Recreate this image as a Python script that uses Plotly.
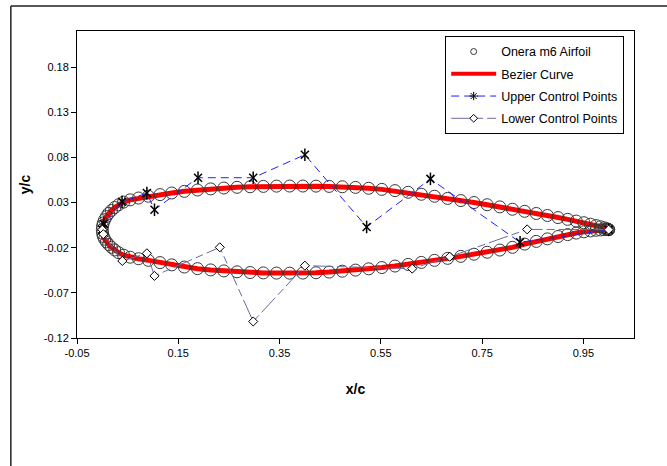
import plotly.graph_objects as go

# ---------------- data ----------------
airfoil_x = [0.0, 0.0005, 0.002, 0.0045, 0.008, 0.0125, 0.018, 0.0245, 0.032, 0.042,
             0.055, 0.0715, 0.091, 0.114, 0.137, 0.162, 0.188, 0.214, 0.240, 0.266,
             0.292, 0.318, 0.344, 0.370, 0.396, 0.422, 0.448, 0.474, 0.500, 0.526,
             0.552, 0.578, 0.604, 0.630, 0.656, 0.682, 0.708, 0.734, 0.760, 0.785,
             0.810, 0.834, 0.857, 0.879, 0.900, 0.919, 0.936, 0.951, 0.964, 0.975,
             0.984, 0.991, 0.996, 0.999, 1.0]

airfoil_upper_y = [0.0, 0.0040, 0.0075, 0.0110, 0.0145, 0.0180, 0.0212, 0.0245, 0.0275, 0.0305,
                   0.0330, 0.0350, 0.0370, 0.0388, 0.0406, 0.0424, 0.0439, 0.0451, 0.0461, 0.0469,
                   0.0475, 0.0479, 0.0482, 0.0483, 0.0483, 0.0482, 0.0479, 0.0475, 0.0468, 0.0458,
                   0.0446, 0.0432, 0.0414, 0.0392, 0.0370, 0.0346, 0.0322, 0.0300, 0.0276, 0.0252,
                   0.0226, 0.0203, 0.0179, 0.0157, 0.0134, 0.0114, 0.0095, 0.0077, 0.0060, 0.0045,
                   0.0032, 0.0020, 0.0010, 0.0003, 0.0]

airfoil_lower_y = [0.0, -0.0040, -0.0075, -0.0105, -0.0135, -0.0165, -0.0195, -0.0225, -0.0255, -0.0283,
                   -0.0305, -0.0322, -0.0340, -0.0365, -0.0390, -0.0414, -0.0432, -0.0446, -0.0457, -0.0467,
                   -0.0475, -0.0479, -0.0481, -0.0482, -0.0481, -0.0477, -0.0470, -0.0460, -0.0448, -0.0434,
                   -0.0420, -0.0403, -0.0385, -0.0363, -0.0340, -0.0318, -0.0296, -0.0272, -0.0250, -0.0226,
                   -0.0196, -0.0160, -0.0130, -0.0102, -0.0076, -0.0055, -0.0038, -0.0024, -0.0014, -0.0007,
                   -0.0003, 0.0, 0.0001, 0.0001, 0.0]

upper_cp_x = [0.0, 0.003, 0.039, 0.088, 0.103, 0.189, 0.298, 0.400, 0.522, 0.648, 0.825, 1.0]
upper_cp_y = [0.0, 0.0062, 0.0308, 0.0405, 0.0220, 0.0575, 0.0575, 0.0830, 0.0030, 0.0562, -0.0140, 0.0]

lower_cp_x = [0.0, 0.002, 0.0395, 0.088, 0.103, 0.232, 0.298, 0.400, 0.612, 0.686, 0.839, 1.0]
lower_cp_y = [0.0, -0.0050, -0.0347, -0.0262, -0.0512, -0.0196, -0.1017, -0.0399, -0.0432, -0.0300, 0.0003, 0.0]

x_ticks = [-0.05, 0.15, 0.35, 0.55, 0.75, 0.95]
y_ticks = [-0.12, -0.07, -0.02, 0.03, 0.08, 0.13, 0.18]

# full closed contour (TE -> upper -> LE -> lower -> TE)
contour_x = airfoil_x[::-1] + airfoil_x[1:]
contour_y = airfoil_upper_y[::-1] + airfoil_lower_y[1:]

FONT = "Liberation Sans, Arial, sans-serif"
UPPER_LINE = dict(color="#1f1fff", width=1, dash="8px,5px")
LOWER_LINE = dict(color="#6a6aa6", width=1, dash="20px,4px,8px,4px")

fig = go.Figure()

# Bezier curve (drawn first so circles sit on top)
fig.add_trace(go.Scatter(
    x=contour_x, y=contour_y, mode="lines", name="Bezier Curve",
    line=dict(color="#ff0000", width=5), showlegend=False))

# Onera m6 airfoil points
fig.add_trace(go.Scatter(
    x=contour_x, y=contour_y, mode="markers", name="Onera m6 Airfoil",
    marker=dict(symbol="circle-open", size=12, color="#383838", line=dict(width=1, color="#383838")),
    showlegend=False))

# Upper control points
fig.add_trace(go.Scatter(
    x=upper_cp_x, y=upper_cp_y, mode="lines+markers", name="Upper Control Points",
    line=UPPER_LINE,
    marker=dict(symbol="x-thin-open", size=8, color="black", line=dict(width=1.5, color="black")),
    showlegend=False))
fig.add_trace(go.Scatter(
    x=upper_cp_x, y=upper_cp_y, mode="markers", showlegend=False, hoverinfo="skip",
    marker=dict(symbol="line-ns-open", size=9, color="black", line=dict(width=1.5, color="black"))))

# Lower control points
fig.add_trace(go.Scatter(
    x=lower_cp_x, y=lower_cp_y, mode="lines+markers", name="Lower Control Points",
    line=LOWER_LINE,
    marker=dict(symbol="diamond", size=7, color="white", line=dict(width=1, color="black")),
    showlegend=False))

# legend-only entries (small legend symbols like the original)
fig.add_trace(go.Scatter(x=[None], y=[None], mode="markers", name="Onera m6 Airfoil",
                         marker=dict(symbol="circle-open", size=6, color="#383838", line=dict(width=1)),
                         legendgroup="a"))
fig.add_trace(go.Scatter(x=[None], y=[None], mode="lines", name="Bezier Curve",
                         line=dict(color="#ff0000", width=4), legendgroup="b"))
fig.add_trace(go.Scatter(x=[None], y=[None], mode="lines+markers", name="Upper Control Points",
                         line=UPPER_LINE,
                         marker=dict(symbol="asterisk-open", size=7, color="black", line=dict(width=1, color="black")),
                         legendgroup="c"))
fig.add_trace(go.Scatter(x=[None], y=[None], mode="lines+markers", name="Lower Control Points",
                         line=LOWER_LINE,
                         marker=dict(symbol="diamond", size=6, color="white", line=dict(width=1, color="black")),
                         legendgroup="d"))

axis_common = dict(
    showline=True, linecolor="black", linewidth=1, mirror=True,
    showgrid=False, zeroline=False,
    ticks="outside", ticklen=5, tickcolor="black", tickwidth=1,
    tickfont=dict(family=FONT, size=11, color="black"),
)

fig.update_xaxes(range=[-0.05, 1.05], tickvals=x_ticks, ticktext=[f"{v:.2f}" for v in x_ticks],
                 title=dict(text="<b>x/c</b>", font=dict(family=FONT, size=14, color="black"), standoff=25),
                 **axis_common)
fig.update_yaxes(range=[-0.12, 0.22], tickvals=y_ticks, ticktext=[f"{v:.2f}" for v in y_ticks],
                 title=dict(text="<b>y/c</b>", font=dict(family=FONT, size=14, color="black"), standoff=9),
                 **axis_common)

fig.update_layout(
    width=667, height=466,
    margin=dict(l=76.7, r=33, t=30.5, b=127.7, pad=0),
    paper_bgcolor="white", plot_bgcolor="white",
    font=dict(family=FONT, size=11, color="black"),
    showlegend=True,
    legend=dict(x=0.661, y=0.984, xanchor="left", yanchor="top",
                bgcolor="white", bordercolor="black", borderwidth=1,
                font=dict(family=FONT, size=12.5, color="black"),
                tracegroupgap=3, traceorder="grouped", itemsizing="trace", itemwidth=45),
    shapes=[
        dict(type="line", xref="paper", yref="paper", x0=-0.1188, y0=1.0812, x1=1.062, y1=1.0812,
             line=dict(color="#222222", width=1.5), layer="below"),
        dict(type="line", xref="paper", yref="paper", x0=-0.1188, y0=1.0812, x1=-0.1188, y1=-0.42,
             line=dict(color="#222222", width=1.5), layer="below"),
    ],
)

fig.write_html("out.html")
